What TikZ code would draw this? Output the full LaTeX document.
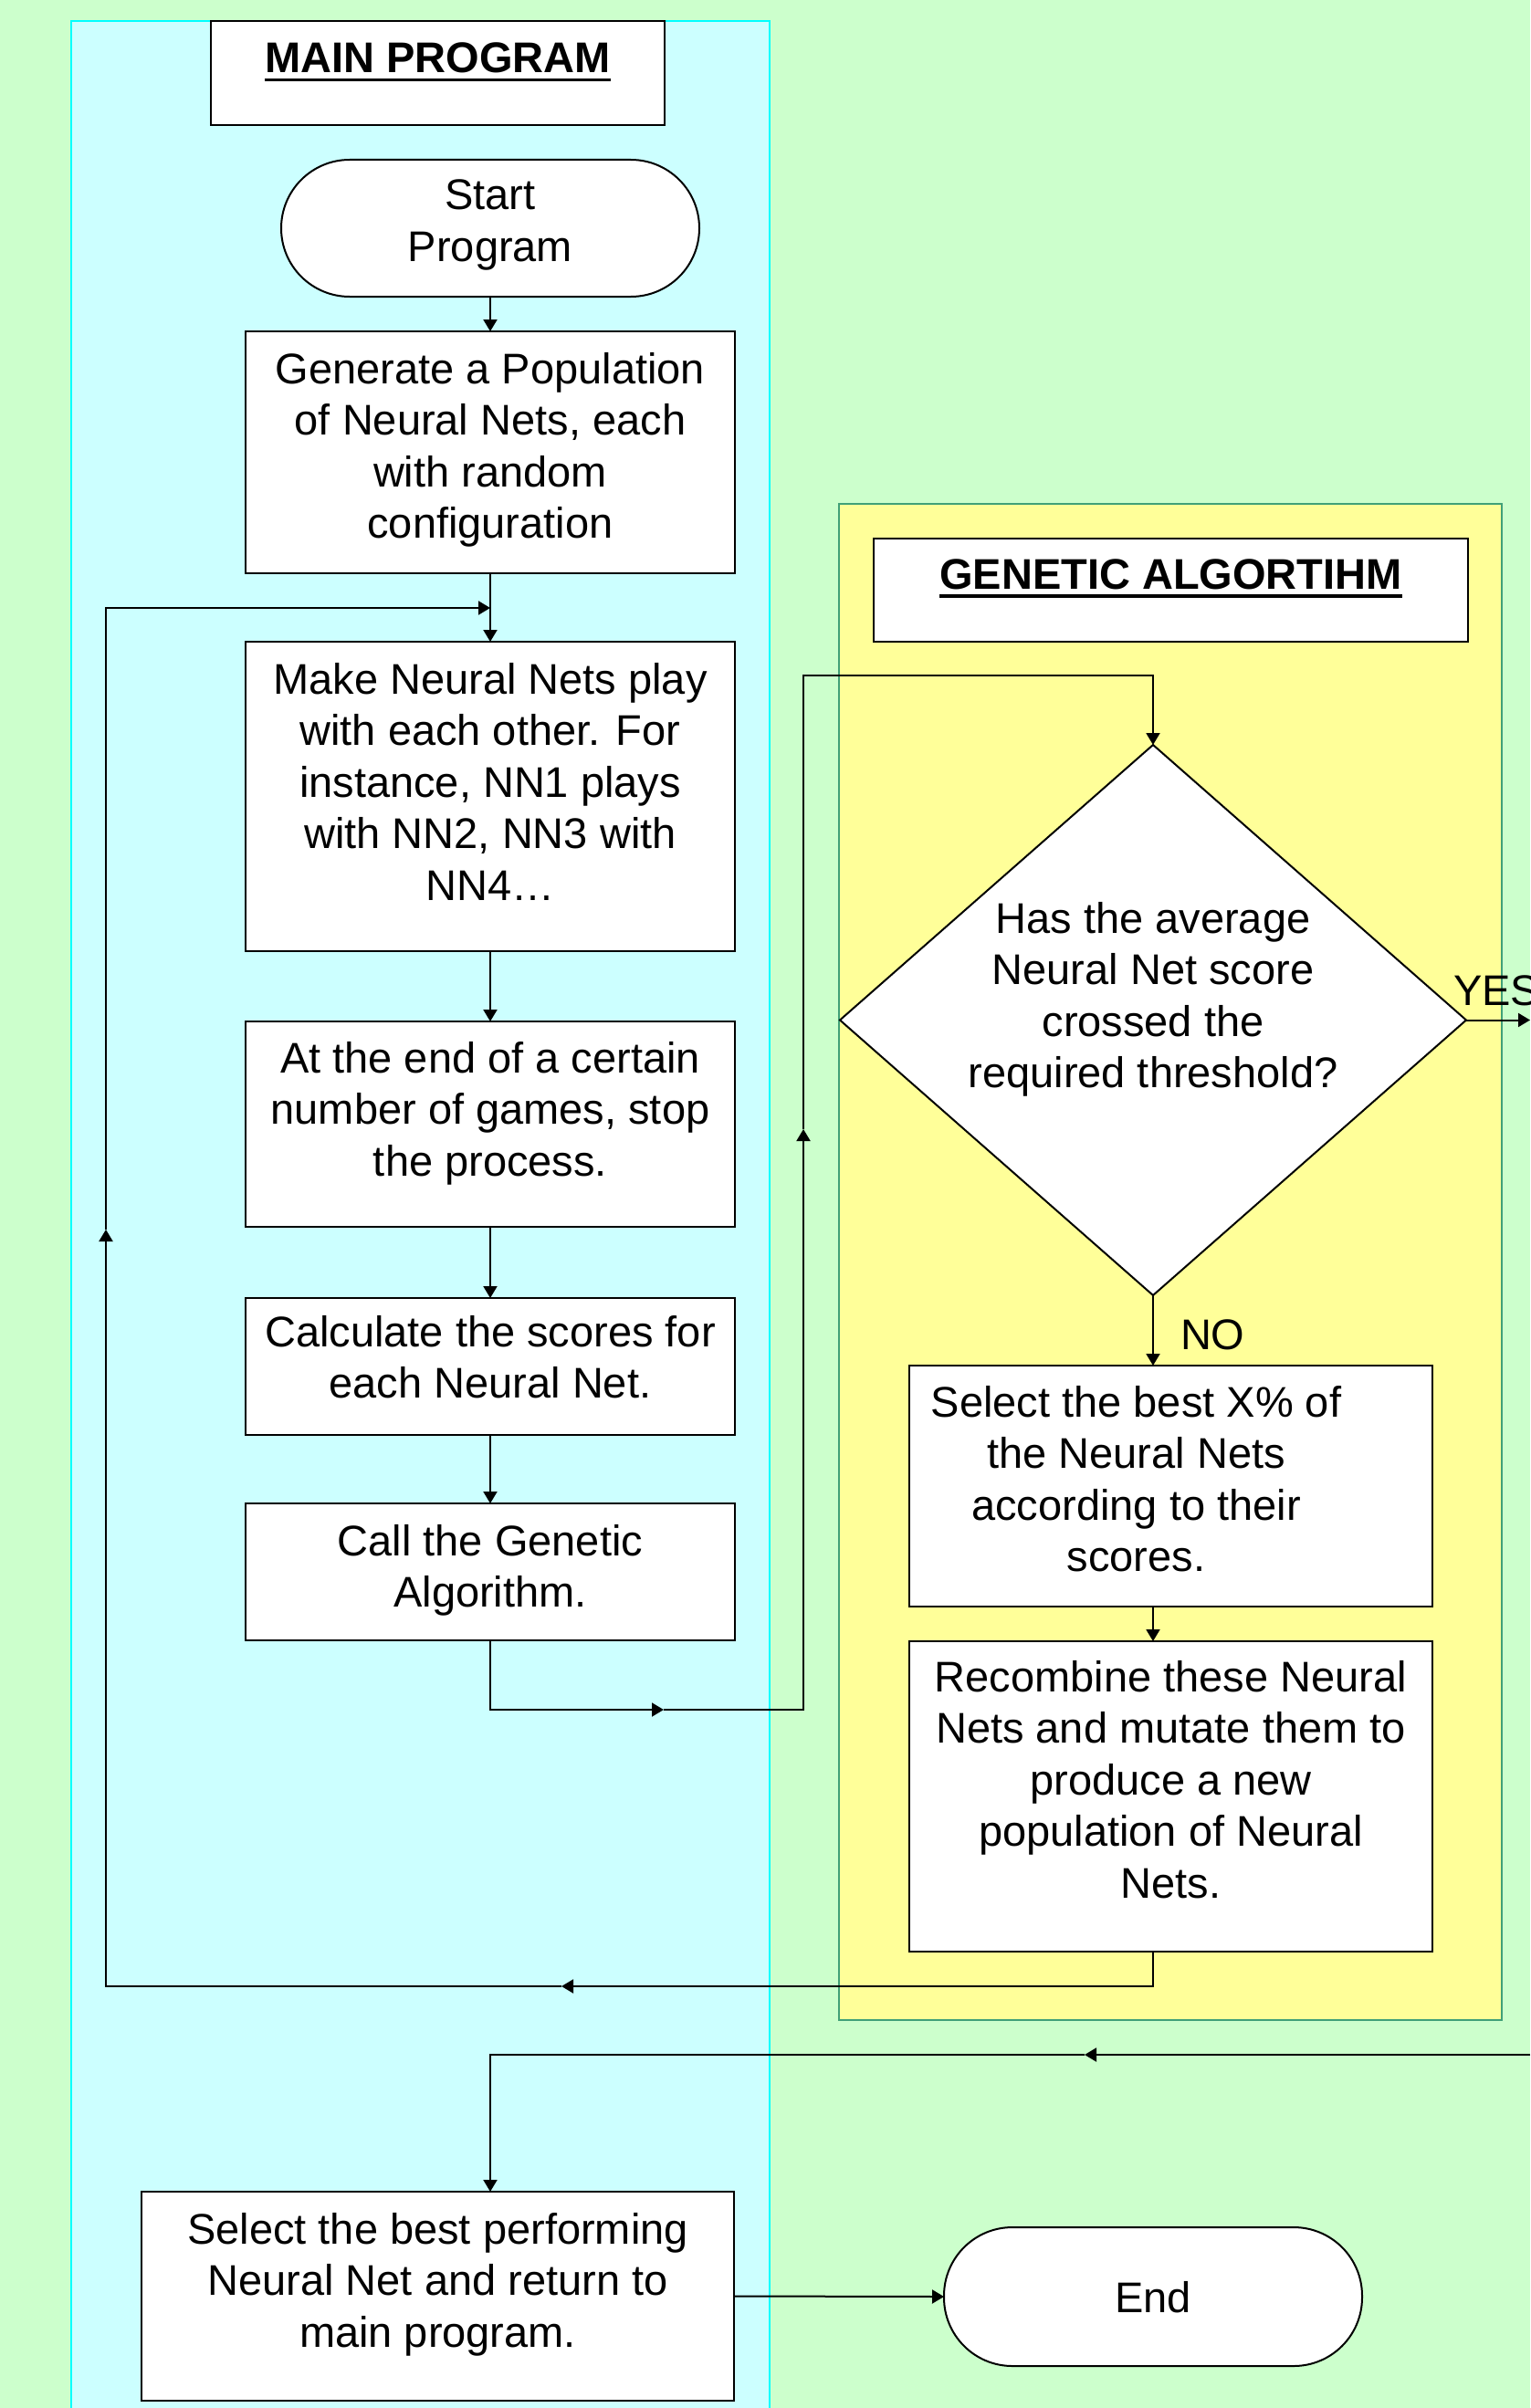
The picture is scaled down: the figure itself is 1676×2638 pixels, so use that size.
\documentclass[tikz,border=0pt]{standalone}
\usepackage{fontspec}
\setmainfont{Liberation Sans}
\usetikzlibrary{arrows.meta,shapes.geometric}
\definecolor{bggreen}{HTML}{CCFFCC}
\definecolor{lanecyan}{HTML}{CCFFFF}
\definecolor{lanecyanb}{HTML}{00FFFF}
\definecolor{laneyel}{HTML}{FFFF99}
\definecolor{laneyelb}{HTML}{40A078}
\newcommand\fstrut{\rule{0pt}{40pt}}
\newcommand\ulx[1]{\setbox0\hbox{#1}\rlap{\rule[-9.5pt]{\wd0}{3.5pt}}\box0}
\begin{document}
\begin{tikzpicture}[x=1pt,y=-1pt,
  every node/.style={inner sep=0pt, outer sep=0pt},
  box/.style={draw=black, line width=2pt, fill=white, rectangle},
  term/.style={draw=black, line width=2pt, fill=white, rectangle, rounded corners=75pt},
  decision/.style={draw=black, line width=2pt, fill=white, diamond},
  txt/.style={font=\fontsize{47}{56.5}\selectfont, align=center, text=black, anchor=north},
  ttl/.style={font=\fontsize{47}{56.5}\selectfont\bfseries, text=black, anchor=north},
  lbl/.style={font=\fontsize{47}{56.5}\selectfont, text=black, anchor=base west},
  conn/.style={line width=2pt, draw=black},
  arr/.style={conn, -{Triangle[length=13pt,width=15pt]}},
]
\useasboundingbox (0,0) rectangle (1676,2638);
\clip (0,0) rectangle (1676,2638);
\fill[bggreen] (0,0) rectangle (1676,2638);
% lanes
\draw[lanecyanb, fill=lanecyan, line width=2pt] (78,23) rectangle (843,2660);
\draw[laneyelb, fill=laneyel, line width=2pt] (919,552) rectangle (1645,2213);

% main program column
\node[box, minimum width=497pt, minimum height=114pt] (mainT) at (479.5,80) {};
\node[ttl] (mainTt) at (479.5,40) {\fstrut\ulx{MAIN PROGRAM}};

\node[term, minimum width=458pt, minimum height=150pt] (start) at (537,250) {};
\node[txt] (startt) at (537,190) {\fstrut Start\\Program};

\node[box, minimum width=536pt, minimum height=265pt] (gen) at (537,495.5) {};
\node[txt] (gent) at (537,380) {\fstrut Generate a Population\\of Neural Nets, each\\with random\\configuration};

\node[box, minimum width=536pt, minimum height=339pt] (make) at (537,872.5) {};
\node[txt] (maket) at (537,720) {\fstrut Make Neural Nets play\\with each other. For\\instance, NN1 plays\\with NN2, NN3 with\\NN4…};

\node[box, minimum width=536pt, minimum height=225pt] (atend) at (537,1231.5) {};
\node[txt] (atendt) at (537,1135) {\fstrut At the end of a certain\\number of games, stop\\the process.};

\node[box, minimum width=536pt, minimum height=150pt] (calc) at (537,1497) {};
\node[txt] (calct) at (537,1435) {\fstrut Calculate the scores for\\each Neural Net.};

\node[box, minimum width=536pt, minimum height=150pt] (call) at (537,1722) {};
\node[txt] (callt) at (537,1664) {\fstrut Call the Genetic\\Algorithm.};

% genetic algorithm column
\node[box, minimum width=651pt, minimum height=113pt] (gaT) at (1282.5,646.5) {};
\node[ttl] (gaTt) at (1282.5,605) {\fstrut\ulx{GENETIC ALGORTIHM}};

\node[decision, minimum width=686pt, minimum height=603pt] (dia) at (1263,1117.5) {};
\node[txt] (diat) at (1263,982) {\fstrut Has the average\\Neural Net score\\crossed the\\required threshold?};

\node[box, minimum width=573pt, minimum height=264pt] (selx) at (1282.5,1628) {};
\node[txt] (selxt) at (1244.5,1512) {\fstrut Select the best X\% of\\the Neural Nets\\according to their\\scores.};

\node[box, minimum width=573pt, minimum height=340pt] (recomb) at (1282.5,1968) {};
\node[txt] (recombt) at (1282.5,1813) {\fstrut Recombine these Neural\\Nets and mutate them to\\produce a new\\population of Neural\\Nets.};

% bottom
\node[box, minimum width=649pt, minimum height=229pt] (selbest) at (479.5,2515.5) {};
\node[txt] (selbestt) at (479.5,2418) {\fstrut Select the best performing\\Neural Net and return to\\main program.};

\node[term, minimum width=458pt, minimum height=152pt] (end) at (1263,2516) {};
\node[txt] (endt) at (1263,2493) {\fstrut End};

\node[lbl] (yes) at (1592,1101) {YES};
\node[lbl] (no) at (1293,1478) {NO};

% connectors
\draw[arr] (start.south) -- (gen.north);
\draw[arr] (gen.south) -- (make.north);
\draw[arr] (make.south) -- (atend.north);
\draw[arr] (atend.south) -- (calc.north);
\draw[arr] (calc.south) -- (call.north);

\coordinate (c1) at (537,1873);
\coordinate (m1) at (727,1873);
\coordinate (c2) at (880,1873);
\coordinate (m2) at (880,1237);
\coordinate (c3) at (880,740);
\coordinate (c4) at (1263,740);
\draw[arr] (call.south) -- (c1) -- (m1);
\draw[arr] (m1) -- (c2) -- (m2);
\draw[arr] (m2) -- (c3) -- (c4) -- (dia.north);

\draw[arr] (dia.south) -- (dia.south |- selx.north);
\draw[arr] (dia.south |- selx.south) -- (dia.south |- recomb.north);

\coordinate (r1) at (1263,2176);
\coordinate (m3) at (615,2176);
\coordinate (r2) at (116,2176);
\coordinate (m4) at (116,1347);
\coordinate (r3) at (116,666);
\coordinate (j1) at (537,666);
\draw[arr] (dia.south |- recomb.south) -- (r1) -- (m3);
\draw[arr] (m3) -- (r2) -- (m4);
\draw[arr] (m4) -- (r3) -- (j1);

\coordinate (yesR) at (1676,1117.5);
\draw[arr] (dia.east) -- (yesR);

\coordinate (y1) at (1676,2251);
\coordinate (m5) at (1188,2251);
\coordinate (y2) at (537,2251);
\draw[arr] (y1) -- (m5);
\draw[arr] (m5) -- (y2) -- (y2 |- selbest.north);

\draw[arr] (selbest.east) -- (end.west);
\end{tikzpicture}
\end{document}
